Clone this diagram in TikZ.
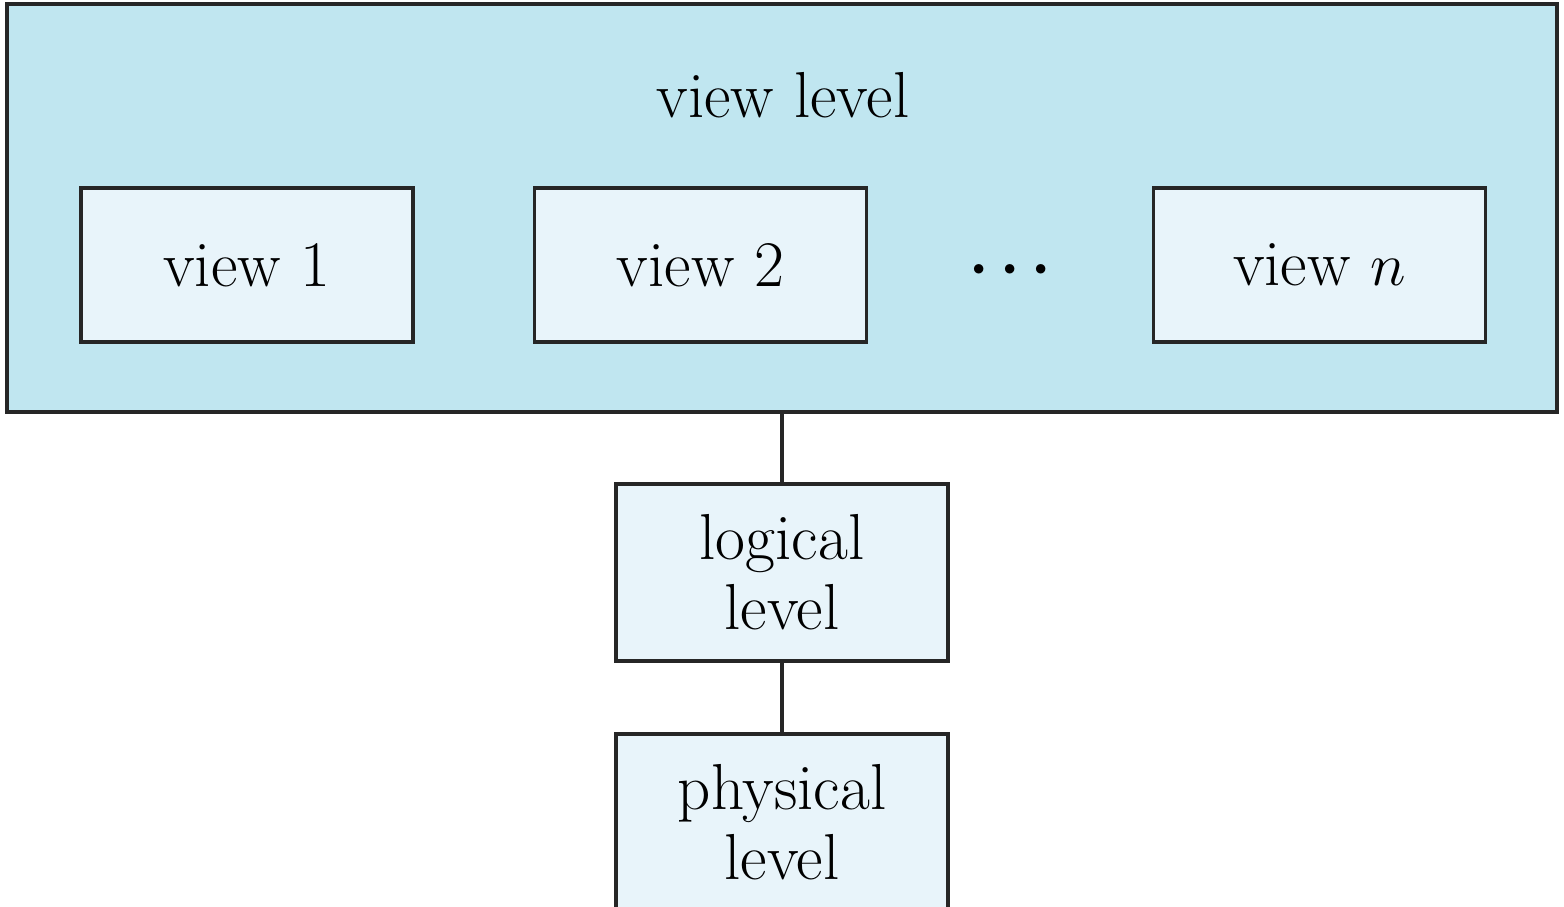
\documentclass[tikz,border=0pt]{standalone}
\usepackage{amsmath,amssymb}
\usepackage{tikz}
\usetikzlibrary{positioning}
\usepackage{xcolor}
\definecolor{levelblue}{HTML}{C0E6F0}
\definecolor{boxblue}{HTML}{E8F4FA}

\begin{document}
\begin{tikzpicture}[
  outer/.style={draw=black!85, line width=1pt, fill=levelblue,
                minimum width=15.5cm, minimum height=4.08cm, inner sep=0pt},
  box/.style={draw=black!85, line width=0.95pt, fill=boxblue,
              minimum width=3.32cm, minimum height=1.54cm, inner sep=0pt,
              font=\fontsize{18.5}{20}\selectfont},
  tall/.style={box, minimum height=1.77cm, align=center},
  link/.style={draw=black!85, line width=0.9pt}]
  \useasboundingbox (0,0) rectangle (15.64,-9.07);
  % 外側の枠と見出し
  \node[outer] (viewlvl) at (7.82,-2.08) {};
  \node[font=\fontsize{18.5}{20}\selectfont] (viewtitle) at (7.83,-0.95) {view level};
  % ビュー:横並び
  \node[box] (v1) at (2.47,  -2.65) {view 1};
  \node[box] (v2) at (7.005, -2.65) {view 2};
  \node[box] (vn) at (13.195,-2.65) {view $n$};
  \node[font=\fontsize{18.5}{20}\selectfont] (dots) at (10.16,-2.70) {$\boldsymbol{\cdots}$};
  % 下の段(physical は下端で切れる)
  \node[tall] (logical)  at (7.82,-5.725) {logical\\level};
  \node[tall] (physical) at (7.82,-8.225) {physical\\level};
  % 線
  \draw[link] (viewlvl.south) -- (logical.north);
  \draw[link] (logical.south) -- (physical.north);
\end{tikzpicture}
\end{document}
